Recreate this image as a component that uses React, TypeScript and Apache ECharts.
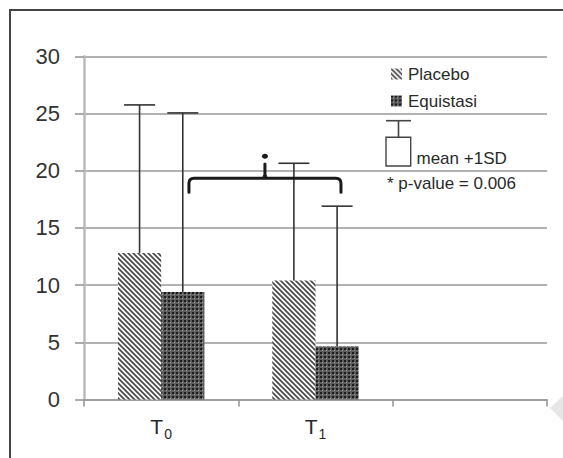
import React, { useEffect, useRef } from "react";
import * as echarts from "echarts";

const categories = ["T0", "T1", ""];
const placeboMean = [12.8, 10.4, null];
const equistasiMean = [9.4, 4.65, null];
const placeboUpper = [25.75, 20.65, null];
const equistasiUpper = [25.05, 16.9, null];
const yMin = 0;
const yMax = 30;
const yInterval = 5;
const bracketFrom = 0;
const bracketTo = 1;
const bracketLevel = 19.34;
const legendNames = ["Placebo", "Equistasi"];
const sdLabel = "mean +1SD";
const pLabel = "* p-value = 0.006";

const FONT = "Liberation Sans, Arial, Helvetica, sans-serif";
const TEXT = "#2a2a2a";
const CAT_GAP = 0.44;

function stripePattern() {
  const s = 5;
  const c = document.createElement("canvas");
  c.width = s;
  c.height = s;
  const g = c.getContext("2d")!;
  g.fillStyle = "#fbfbfb";
  g.fillRect(0, 0, s, s);
  g.strokeStyle = "#4a4a4a";
  g.lineWidth = 1.7;
  g.beginPath();
  g.moveTo(-1, -1);
  g.lineTo(s + 1, s + 1);
  g.moveTo(-1, s - 1);
  g.lineTo(1, s + 1);
  g.moveTo(s - 1, -1);
  g.lineTo(s + 1, 1);
  g.stroke();
  return { image: c, repeat: "repeat", imageWidth: s, imageHeight: s };
}

function dotPattern() {
  const s = 4;
  const c = document.createElement("canvas");
  c.width = s;
  c.height = s;
  const g = c.getContext("2d")!;
  g.fillStyle = "#5e5e5e";
  g.fillRect(0, 0, s, s);
  g.fillStyle = "#1c1c1c";
  g.fillRect(0, 0, 2, 2);
  g.fillStyle = "#a0a0a0";
  g.fillRect(2, 2, 1, 1);
  return { image: c, repeat: "repeat", imageWidth: s, imageHeight: s };
}

function errorData(means: (number | null)[], uppers: (number | null)[]) {
  const out: number[][] = [];
  means.forEach((m, i) => {
    const u = uppers[i];
    if (m != null && u != null) out.push([i, m, u]);
  });
  return out;
}

function makeErrorRender(sign: number) {
  return (params: any, api: any) => {
    const cat = api.value(0);
    const base = api.coord([cat, api.value(1)]);
    const top = api.coord([cat, api.value(2)]);
    const band = api.size([1, 0])[0];
    const barW = (band * (1 - CAT_GAP)) / 2;
    const x = base[0] + (sign * barW) / 2;
    const half = 15.5;
    const style = { stroke: "#333", lineWidth: 1.6 };
    return {
      type: "group",
      children: [
        { type: "line", shape: { x1: x, y1: base[1], x2: x, y2: top[1] }, style },
        { type: "line", shape: { x1: x - half, y1: top[1], x2: x + half, y2: top[1] }, style },
      ],
    };
  };
}

function bracketRender(params: any, api: any) {
  const y = api.value(2);
  const a = api.coord([api.value(0), y]);
  const b = api.coord([api.value(1), y]);
  const band = api.size([1, 0])[0];
  const x1 = a[0] + band * 0.18;
  const x2 = b[0] + band * 0.165;
  const yy = a[1];
  const xm = (x1 + x2) / 2;
  const d = `M ${x1} ${yy + 14} L ${x1} ${yy + 5} Q ${x1} ${yy} ${x1 + 5} ${yy} L ${x2 - 5} ${yy} Q ${x2} ${yy} ${x2} ${yy + 5} L ${x2} ${yy + 14}`;
  const stem = `M ${xm - 5} ${yy} Q ${xm - 1} ${yy} ${xm - 1} ${yy - 4} L ${xm - 1} ${yy - 15} L ${xm + 1} ${yy - 15} L ${xm + 1} ${yy - 4} Q ${xm + 1} ${yy} ${xm + 5} ${yy} Z`;
  return {
    type: "group",
    children: [
      { type: "path", shape: { pathData: d }, style: { fill: "none", stroke: "#1a1a1a", lineWidth: 3, lineCap: "round" } },
      { type: "path", shape: { pathData: stem }, style: { fill: "#1a1a1a", stroke: "#1a1a1a", lineWidth: 1 } },
      { type: "ellipse", shape: { cx: xm, cy: yy - 22, rx: 3, ry: 2.5 }, style: { fill: "#1a1a1a" } },
    ],
  };
}

export default function App() {
  const ref = useRef<HTMLDivElement>(null);
  useEffect(() => {
    if (!ref.current) return;
    const chart = echarts.init(ref.current, null, { renderer: "svg" });
    const stripes = stripePattern();
    const dots = dotPattern();
    const option: any = {
      animation: false,
      textStyle: { fontFamily: FONT },
      grid: { left: 84, right: 16, top: 56.3, bottom: 58.5, containLabel: false },
      legend: {
        data: legendNames,
        orient: "vertical",
        left: 386,
        top: 59,
        itemWidth: 11,
        itemHeight: 11,
        itemGap: 7,
        icon: "rect",
        selectedMode: false,
        textStyle: { fontSize: 17, color: TEXT, fontFamily: FONT, lineHeight: 20, padding: [0, 0, 0, 1] },
      },
      xAxis: {
        type: "category",
        data: categories,
        axisLine: { lineStyle: { color: "#999", width: 1.6 } },
        axisTick: { show: true, length: 7, lineStyle: { color: "#999", width: 1.6 } },
        axisLabel: {
          margin: 13,
          formatter: (v: string) => (v ? `{t|${v.charAt(0)}}{s|${v.slice(1)}}` : ""),
          rich: {
            t: { fontSize: 21, color: TEXT, fontFamily: FONT, lineHeight: 24 },
            s: { fontSize: 14, color: TEXT, fontFamily: FONT, padding: [14, 0, 0, 1] },
          },
        },
      },
      yAxis: {
        type: "value",
        min: yMin,
        max: yMax,
        interval: yInterval,
        axisLine: { show: true, lineStyle: { color: "#bbb", width: 2.5 } },
        axisTick: { show: true, length: 9, lineStyle: { color: "#999", width: 1.6 } },
        splitLine: { lineStyle: { color: "#999", width: 1.6 } },
        axisLabel: { fontSize: 22, color: "#333", margin: 24, fontFamily: FONT },
      },
      series: [
        {
          name: legendNames[0],
          type: "bar",
          data: placeboMean,
          barGap: "0%",
          barCategoryGap: `${CAT_GAP * 100}%`,
          itemStyle: { color: stripes },
        },
        {
          name: legendNames[1],
          type: "bar",
          data: equistasiMean,
          barGap: "0%",
          barCategoryGap: `${CAT_GAP * 100}%`,
          itemStyle: { color: dots },
        },
        {
          type: "custom",
          name: "placeboSD",
          data: errorData(placeboMean, placeboUpper),
          encode: { x: 0, y: [1, 2] },
          renderItem: makeErrorRender(-1),
          z: 5,
        },
        {
          type: "custom",
          name: "equistasiSD",
          data: errorData(equistasiMean, equistasiUpper),
          encode: { x: 0, y: [1, 2] },
          renderItem: makeErrorRender(1),
          z: 5,
        },
        {
          type: "custom",
          name: "bracket",
          data: [[bracketFrom, bracketTo, bracketLevel]],
          encode: { x: [0, 1], y: 2 },
          renderItem: bracketRender,
          z: 6,
        },
      ],
      graphic: [
        {
          type: "rect",
          z: -10,
          shape: { x: 10, y: 10, width: 620, height: 520 },
          style: { fill: "none", stroke: "#444", lineWidth: 2 },
        },
        {
          type: "polygon",
          shape: { points: [[550, 408], [563, 396], [563, 421]] },
          style: { fill: "#e6e6e6" },
        },
        {
          type: "group",
          children: [
            { type: "line", shape: { x1: 386, y1: 120.7, x2: 411, y2: 120.7 }, style: { stroke: "#444", lineWidth: 1.6 } },
            { type: "line", shape: { x1: 398.5, y1: 120.7, x2: 398.5, y2: 137.3 }, style: { stroke: "#444", lineWidth: 1.6 } },
            { type: "rect", shape: { x: 386, y: 137.3, width: 24.7, height: 28.7 }, style: { fill: "#fff", stroke: "#444", lineWidth: 1.4 } },
            {
              type: "text",
              x: 416.5,
              y: 158.3,
              style: { text: sdLabel, fontSize: 17, fill: TEXT, fontFamily: FONT, verticalAlign: "middle" },
            },
            {
              type: "text",
              x: 387,
              y: 183.3,
              style: { text: pLabel, fontSize: 17, fill: TEXT, fontFamily: FONT, verticalAlign: "middle" },
            },
          ],
        },
      ],
    };
    chart.setOption(option);
    return () => chart.dispose();
  }, []);
  return (
    <div
      ref={ref}
      style={{ position: "absolute", left: 0, top: 0, width: 563, height: 458, background: "#fff" }}
    />
  );
}
